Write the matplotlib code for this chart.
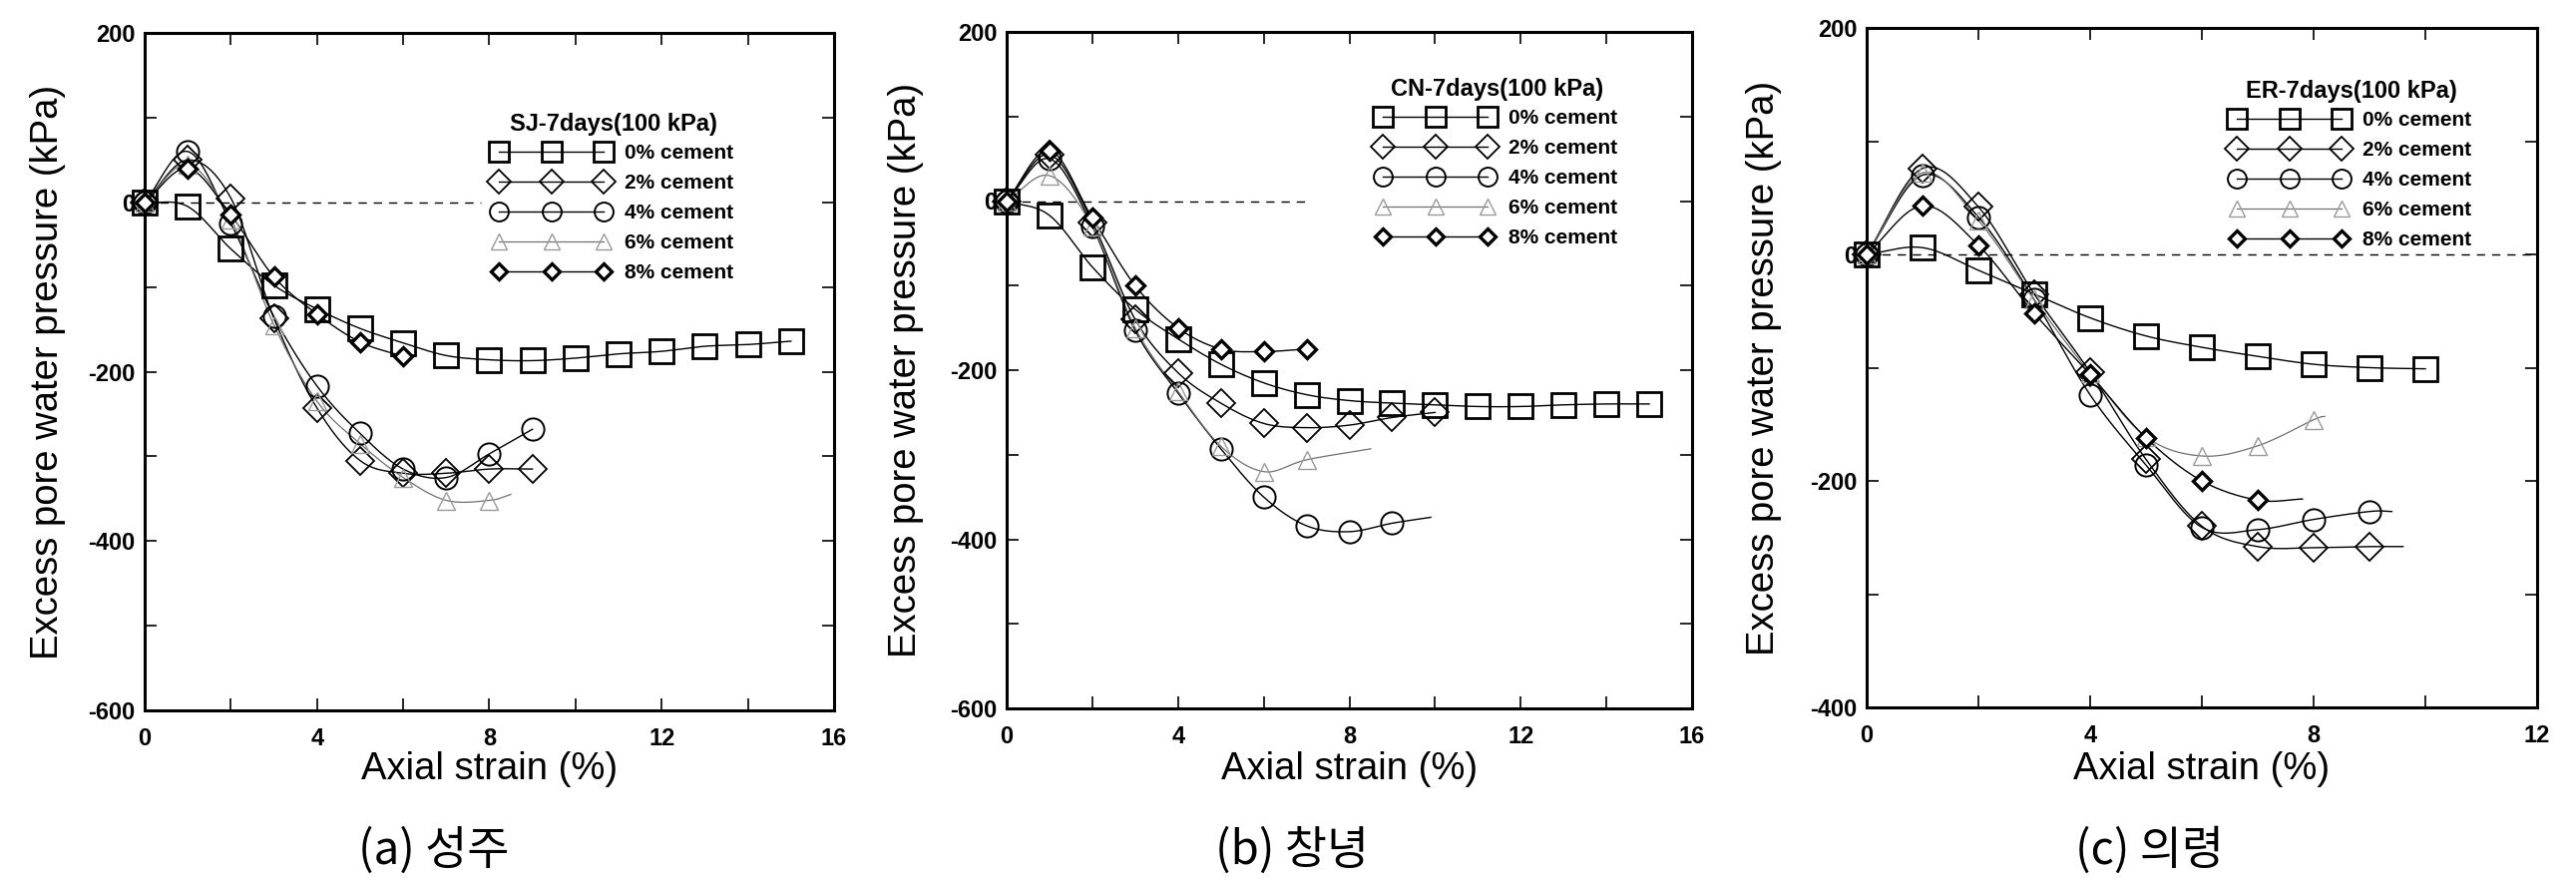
import numpy as np
import matplotlib
matplotlib.use("Agg")
import matplotlib.pyplot as plt
from matplotlib.lines import Line2D
from matplotlib.ticker import MultipleLocator
from matplotlib.font_manager import FontProperties

plt.rcParams["font.family"] = ["Liberation Sans", "DejaVu Sans"]
plt.rcParams["axes.unicode_minus"] = False

# ---------------- data: excess pore water pressure (kPa) vs axial strain (%) ----------------
cement_levels = ["0%", "2%", "4%", "6%", "8%"]

# SJ (성주)
sj_strain = {
    "0%": list(range(16)),
    "2%": list(range(10)),
    "4%": list(range(10)),
    "6%": list(range(9)),
    "8%": list(range(7)),
}
sj_pwp = {
    "0%": [0, -5, -55, -98, -126, -149, -166, -181, -186, -187, -184, -179, -176, -170, -168, -164],
    "2%": [0, 50, 5, -137, -243, -305, -320, -320, -315, -315],
    "4%": [0, 60, -25, -135, -217, -273, -315, -325, -297, -268],
    "6%": [0, 45, -20, -145, -235, -285, -325, -352, -352],
    "8%": [0, 40, -15, -88, -132, -165, -182],
}
sj_tail = {"6%": (8.5, -345)}

# CN (창녕)
cn_strain = {
    "0%": list(range(16)),
    "2%": list(range(11)),
    "4%": list(range(10)),
    "6%": list(range(8)),
    "8%": list(range(8)),
}
cn_pwp = {
    "0%": [0, -17, -78, -128, -163, -193, -215, -229, -236, -239, -241, -243, -243, -241, -240, -240],
    "2%": [0, 55, -25, -140, -203, -239, -263, -268, -265, -256, -250],
    "4%": [0, 50, -30, -153, -227, -293, -350, -384, -391, -381],
    "6%": [0, 30, -30, -150, -225, -290, -320, -306],
    "8%": [0, 60, -20, -100, -150, -175, -178, -175],
}
cn_tail = {"4%": (9.9, -374), "6%": (8.5, -293)}

# ER (의령)
er_strain = {
    "0%": list(range(11)),
    "2%": list(range(10)),
    "4%": list(range(10)),
    "6%": list(range(9)),
    "8%": list(range(8)),
}
er_pwp = {
    "0%": [0, 6, -14, -35, -56, -72, -82, -90, -97, -100, -101],
    "2%": [0, 76, 42, -35, -104, -181, -240, -258, -259, -258],
    "4%": [0, 70, 33, -40, -124, -186, -241, -243, -234, -227],
    "6%": [0, 72, 30, -40, -105, -161, -178, -169, -146],
    "8%": [0, 43, 8, -52, -106, -162, -200, -217],
}
er_tail = {"2%": (9.6, -258), "4%": (9.4, -227), "6%": (8.2, -143), "8%": (7.8, -216)}

W, H = 2582, 884

# axes boxes in pixels: left, top, right, bottom; legend anchor and y-label centre in pixels
panels = [
    dict(title="SJ-7days(100 kPa)", caption="(a) 성주", strain=sj_strain, pwp=sj_pwp, tail=sj_tail,
         xlim=(0, 16), ylim=(-600, 200), box=(145, 33, 836, 712), leg=(490, 109), ylab_x=48,
         cap_x=435, zero_end=7.8),
    dict(title="CN-7days(100 kPa)", caption="(b) 창녕", strain=cn_strain, pwp=cn_pwp, tail=cn_tail,
         xlim=(0, 16), ylim=(-600, 200), box=(1009, 32, 1696, 710), leg=(1376, 74), ylab_x=908,
         cap_x=1295, zero_end=7.0),
    dict(title="ER-7days(100 kPa)", caption="(c) 의령", strain=er_strain, pwp=er_pwp, tail=er_tail,
         xlim=(0, 12), ylim=(-400, 200), box=(1871, 28, 2543, 709), leg=(2232, 76), ylab_x=1768,
         cap_x=2155, zero_end=12.0),
]

styles = {
    "0%": dict(marker="s", ms=17, mfc="none", mec="black", mew=2.0, color="black", lw=1.0),
    "2%": dict(marker="D", ms=14, mfc="none", mec="black", mew=1.3, color="black", lw=1.0),
    "4%": dict(marker="o", ms=16, mfc="none", mec="black", mew=1.4, color="black", lw=1.0),
    "6%": dict(marker="^", ms=13, mfc="none", mec="#9a9a9a", mew=1.0, color="#707070", lw=0.9),
    "8%": dict(marker="D", ms=9, mfc="white", mec="black", mew=2.4, color="black", lw=1.0),
}


def smooth_curve(x, y, n=24):
    """Catmull-Rom spline passing through every point."""
    x = np.asarray(x, float)
    y = np.asarray(y, float)
    px = np.concatenate([[2 * x[0] - x[1]], x, [2 * x[-1] - x[-2]]])
    py = np.concatenate([[2 * y[0] - y[1]], y, [2 * y[-1] - y[-2]]])
    xs, ys = [], []
    t = np.linspace(0, 1, n, endpoint=False)
    for i in range(1, len(px) - 2):
        for p, out in ((px, xs), (py, ys)):
            p0, p1, p2, p3 = p[i - 1], p[i], p[i + 1], p[i + 2]
            out.append(0.5 * ((2 * p1) + (-p0 + p2) * t
                              + (2 * p0 - 5 * p1 + 4 * p2 - p3) * t ** 2
                              + (-p0 + 3 * p1 - 3 * p2 + p3) * t ** 3))
    xs.append([x[-1]])
    ys.append([y[-1]])
    return np.concatenate(xs), np.concatenate(ys)


fig = plt.figure(figsize=(W / 100, H / 100), dpi=100)

for p in panels:
    l, t, r, b = p["box"]
    ax = fig.add_axes([l / W, 1 - b / H, (r - l) / W, (b - t) / H])
    ax.plot([0, p["zero_end"]], [0, 0], color="black", lw=1.0, ls=(0, (6, 5)), zorder=1)

    for lvl in cement_levels:
        st = styles[lvl]
        xs = list(p["strain"][lvl])
        ys = list(p["pwp"][lvl])
        cx, cy = xs[:], ys[:]
        if lvl in p["tail"]:
            cx.append(p["tail"][lvl][0])
            cy.append(p["tail"][lvl][1])
        sx, sy = smooth_curve(cx, cy)
        ax.plot(sx, sy, color=st["color"], lw=st["lw"], zorder=2)
        ax.plot(xs, ys, ls="none", marker=st["marker"], ms=st["ms"], mfc=st["mfc"],
                mec=st["mec"], mew=st["mew"], zorder=3, clip_on=False)

    ax.set_xlim(*p["xlim"])
    ax.set_ylim(*p["ylim"])
    ax.xaxis.set_major_locator(MultipleLocator(4))
    ax.xaxis.set_minor_locator(MultipleLocator(2))
    ax.yaxis.set_major_locator(MultipleLocator(200))
    ax.yaxis.set_minor_locator(MultipleLocator(100))
    ax.tick_params(which="both", direction="in", top=True, right=True, length=8.5, width=1.2,
                   labelsize=17)
    ax.tick_params(axis="x", which="both", pad=12)
    ax.tick_params(axis="y", which="both", pad=7)
    for sp in ax.spines.values():
        sp.set_linewidth(2.2)

    ax.set_xlabel("Axial strain (%)", fontsize=27.5, fontweight="normal")
    ax.set_ylabel("Excess pore water pressure (kPa)", fontsize=27.5, fontweight="normal")
    ax.xaxis.set_label_coords(0.5, 1 - 771 / H,
                              transform=matplotlib.transforms.blended_transform_factory(
                                  ax.transAxes, fig.transFigure))
    ax.xaxis.label.set_va("center")
    ax.yaxis.set_label_coords(p["ylab_x"] / W, 0.5,
                              transform=matplotlib.transforms.blended_transform_factory(
                                  fig.transFigure, ax.transAxes))
    ax.yaxis.label.set_va("center")

    tick_font = FontProperties(family=["Liberation Sans", "DejaVu Sans"], weight="bold", size=17)
    for tk in ax.xaxis.get_major_ticks() + ax.yaxis.get_major_ticks():
        tk.label1.set_fontproperties(tick_font.copy())

    handles = [Line2D([], [], color=styles[c]["color"], lw=styles[c]["lw"], marker=styles[c]["marker"],
                      ms=styles[c]["ms"] * 0.85, mfc=styles[c]["mfc"], mec=styles[c]["mec"],
                      mew=styles[c]["mew"]) for c in cement_levels]
    labels = [f"{c} cement" for c in cement_levels]
    lx, ly = p["leg"]
    leg = ax.legend(handles, labels, title=p["title"], loc="upper left",
                    bbox_to_anchor=(lx / W, 1 - ly / H), bbox_transform=fig.transFigure,
                    numpoints=3, handlelength=5.6, handletextpad=0.75, labelspacing=0.53,
                    borderpad=0.2, borderaxespad=0, frameon=False,
                    prop={"weight": "bold", "size": 15},
                    title_fontproperties={"weight": "bold", "size": 17})
    leg._legend_box.sep = 5.5
    leg.set_zorder(4)

    fig.text(p["cap_x"] / W, 1 - 853 / H, p["caption"], ha="center", va="center", fontsize=33,
             family=["Noto Sans CJK KR", "DejaVu Sans"])

fig.savefig("out.png", dpi=100)
